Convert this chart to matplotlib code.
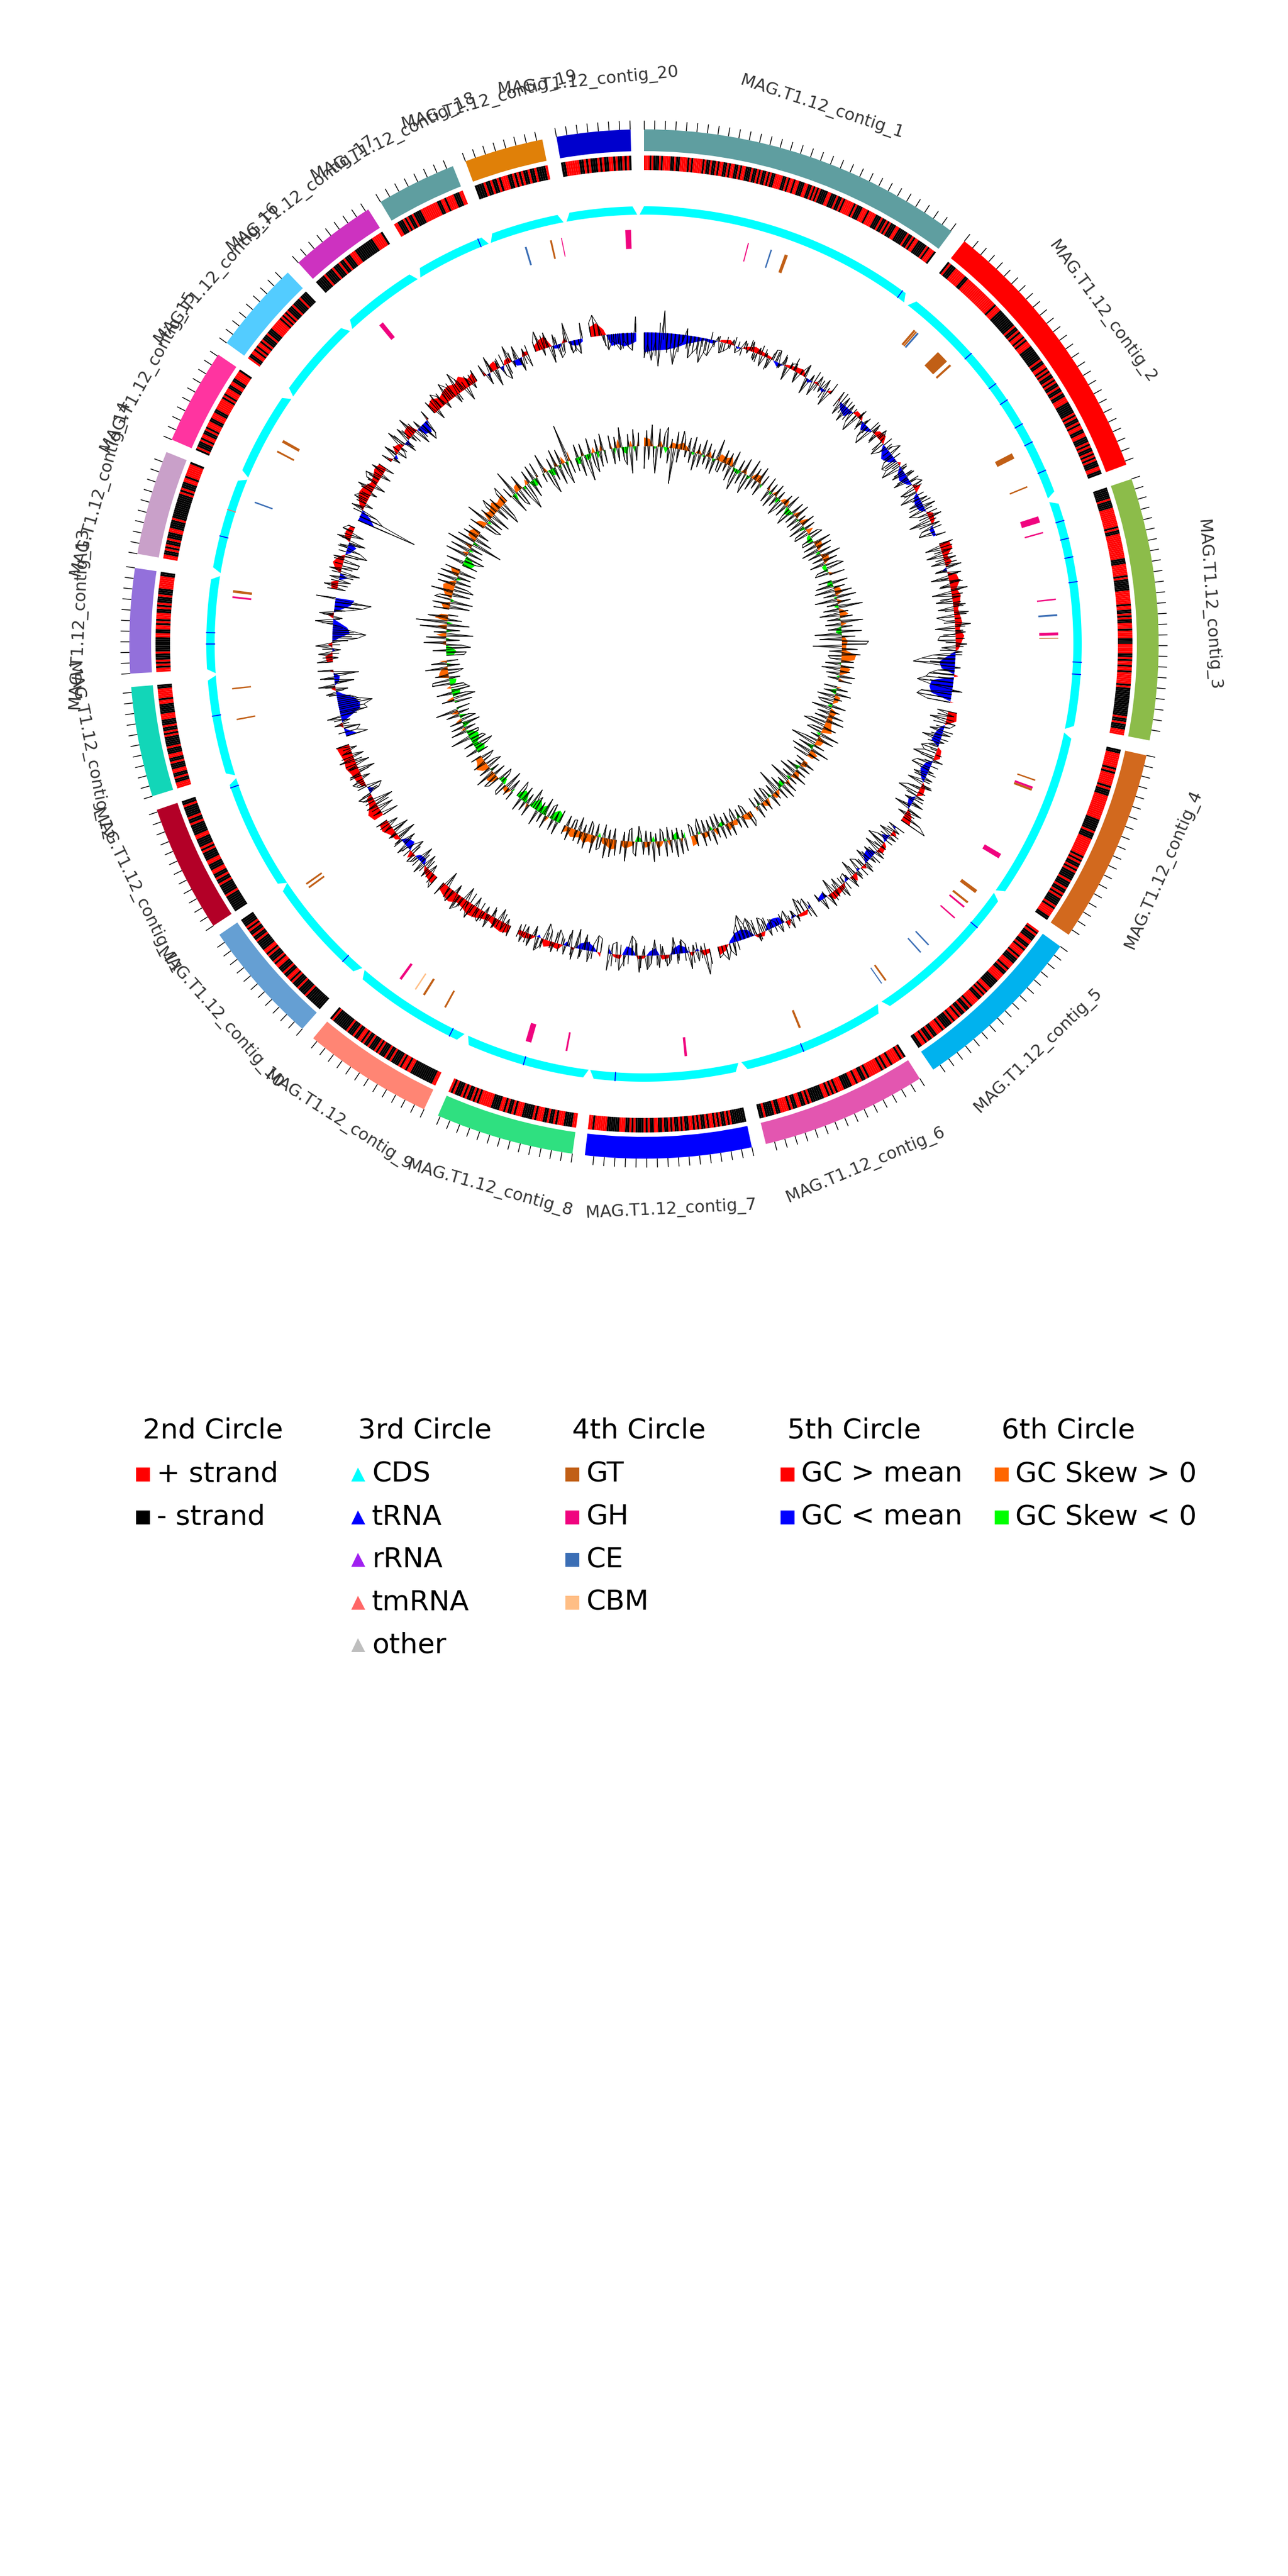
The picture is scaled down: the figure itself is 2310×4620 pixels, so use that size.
import numpy as np
import matplotlib
matplotlib.use('Agg')
import matplotlib.pyplot as plt

# contig extents in degrees, clockwise from the top
contig_start = [0.0, 38.5, 71.3, 102.5, 126.0, 147.6, 167.9, 188.0, 205.3, 221.6,
                236.8, 252.8, 266.7, 280.1, 293.4, 305.8, 317.8, 329.2, 339.7, 350.2]
contig_end = [36.7, 69.6, 100.8, 124.4, 145.8, 166.3, 186.6, 203.6, 220.0, 235.6,
              251.2, 265.2, 278.5, 291.9, 304.2, 316.2, 327.6, 338.2, 348.6, 358.5]
contig_colors = ['#5F9EA0', '#FF0000', '#8CBC4A', '#D2691E', '#00B2EE', '#E356B0', '#0000FF',
                 '#2FE080', '#FF8574', '#659FD3', '#B30027', '#12D6B8', '#9370DB', '#C9A0C9',
                 '#FF34A0', '#53CCFF', '#CD32C0', '#5F9EA0', '#E08008', '#0000CD']
contig_names = ['MAG.T1.12_contig_%d' % (i + 1) for i in range(20)]

# 2nd circle, one character per small cell: r = + strand, k = - strand
strand_cells = [
    'rrrkrkkkrkrrrrkkrkkrrrrkrkrrrrrkrkkrkkrkrrkkrkrrkkrkrrkkkrkkrkrkkrkrkkrrrrkkrkrrkrrkkkrrkkrkrkrkkkkrrkkkrkkrkrrrrrkrkkkrrrkrrrrkkkrkkrkrkkkrrkkkkkrkkrkrrkkkkkrkrrrk',
    'krkkkrrrrrrkkrrrrrrrrrrrrrrrrrrkrrrkkkkkkkkkkrkkrkrrkrkrrrkkkkkkkkrkkrrkrkrkkrkrkkrkkrkkrrrkkkkkkrkrkkrkrrkkrrkkkrkrkkrkrkrkkkrrkk',
    'kkkkkkrkkkkrrrrrrrrrrkrkkrrrrrrrrrrrrrkkkrrrrrrkrkkkkkkrrrrrrrkrrkkrkrkkrrrkrrrrkkkrrrrrkkrkrrkrrkrrrrrrkrkkkkkkkkkkkkkkkrkkrkkkrrr',
    'kkrrrrrrrkrkrrrrrrkrkkkrrrrrrrrrrrrkkkkkkrkkkrrrrrrrrrkrkrkkrkrkkkkrkkkrkkrkrkkkkrkrrrrkk',
    'rkrkkkrrkkrkrrrkrkkkrrrkrkkrrrrkkkkkrrkrkrkkrrrrkrkkrkkrkrrkrkkkkrkrrrkkrkkrkrrkk',
    'krkrrrrkrrkrkrrrrrrkrkkrrkrrkkkkrrrkrkrkrrkkkkkkrkrkkrrkkrkrrrrkkrkkkkrkk',
    'kkkkkkkrkrkkrkrkrrkrkkrkrkrrkkrkrkkrkrkkrkkrrkkrkrkkkkrkrkkrrrkkkkkkrrrrrrkrr',
    'rrkkkkrrrkrkkrkkrrrkrkkkkkrrrkrkkrkrrkkkkrrrrrrkrkrkkrkrkkkrkr',
    'rrkkkkkkkkkkkkrrkrrkrkkkkrkkrkkkrkrkkkrkkrkrrkkrkkkrkkkkkkkkrk',
    'kkkkkkkkkrkkkkrkkkrkrrkkrkkkrrkrkkkrkrrkkkkkrkkrkkrkrkkkk',
    'kkkkkkkkrkkkkkrkkrkkrrkkkrrkkkkrkrkkkkrrkkkkkrkkrkkkkkrkk',
    'rrrkkrkkrrkkkrkkrrkkkrkkkkkrkrkkrkkkrrrkkkkkrrkrrrrrkk',
    'rrkrkrkkkrkkkkkkkrrkkrrkrkrrrkkrkrkkkrkkkrrrrrrkk',
    'rrkkrkrkkrkkkrrkkkkrkkkkkkkkkkkkrkrkkkrrkrrrrrrk',
    'krkkkrkrrkkrkrrrkkrrrkkrrrrrrkrkrrrkkrrkkrrrrk',
    'rkkrrkrkrrkrkkkrkkkrrrrrrkrkrkrkkkrkkkkrkkkk',
    'kkkkkrkkkkrkkkrkkrkkkrrrkkkkkkkkkkrrrrrk',
    'rrkkkrkrkkrkkkkrrrrrrrrrkkrrkrrrrkkkrr',
    'kkkkrkkrkkrkrrrkkrkrkrkkrkkrkkkkr',
    'kkrrrrrrkkrkrkkkrkrkkrrkrkkrkrk',
]

# 3rd circle: RNA genes on the CDS ring
trna_angles = [36.2, 48.4, 53.5, 56.1, 59.8, 62.5, 66.6, 73.6, 76.0, 78.5, 81.8, 92.4, 94.0,
               130.4, 158.6, 183.8, 196.0, 206.4, 223.5, 250.8, 260.5, 270.0, 271.5, 284.3, 337.7]
tmrna_angles = [287.9]

# 4th circle: CAZyme class, angle and angular width
cazy_class = ['GH', 'GH', 'CE', 'GT', 'GT', 'GT', 'CE', 'GT', 'GT', 'GT', 'GT', 'GH', 'GH', 'GH', 'CE',
              'GH', 'GT', 'GT', 'GH', 'GT', 'GH', 'GT', 'GT', 'GH', 'GH', 'CE', 'CE', 'GT', 'CE', 'GT',
              'GH', 'GH', 'GH', 'GT', 'GT', 'CBM', 'GH', 'GT', 'GT', 'GT', 'GT', 'GH', 'GT', 'CE', 'GT',
              'GT', 'GH', 'CE', 'GT', 'GH']
cazy_angle = [357.8, 14.6, 17.9, 20.1, 40.8, 41.1, 41.4, 46.1, 47.7, 63.0, 67.7, 72.5, 74.4, 83.8, 86.0,
              88.6, 89.2, 109.2, 110.3, 110.6, 120.8, 126.7, 128.6, 129.4, 131.4, 136.6, 138.1, 144.3, 145.0, 157.9,
              174.2, 190.8, 196.2, 208.7, 212.1, 213.5, 216.0, 234.0, 234.6, 259.5, 263.8, 276.5, 277.3, 290.0, 297.7,
              299.3, 320.6, 343.4, 347.0, 348.5]
cazy_width = [0.8, 0.15, 0.2, 0.45, 0.3, 0.2, 0.25, 1.8, 0.3, 0.8, 0.2, 0.9, 0.2, 0.2, 0.25,
              0.4, 0.1, 0.2, 0.3, 0.3, 0.7, 0.5, 0.3, 0.25, 0.2, 0.2, 0.2, 0.25, 0.15, 0.3,
              0.35, 0.25, 0.8, 0.25, 0.3, 0.2, 0.35, 0.25, 0.25, 0.2, 0.2, 0.25, 0.35, 0.2, 0.25,
              0.4, 0.65, 0.25, 0.25, 0.12]

# 5th circle: GC content around the mean, per contig (spikes)
gc_values = [
    [-45, -20, -50, -15, -60, 40, -30, -25, -55, -20, -15, 12, -40, -30, -20, -45, -25, -30, -10, 8, -20, -15, -8, 10, -12, -5, 15, -6, 18, -14, 12, -20, 8, -18, 20, 22, -8, 16, -25, 10, 14, -20, 6, 24, -30, 12, -25, 18, -10, 20, -28, 10],
    [18, -25, 16, -30, 12, -20, -35, 14, -15, 8, -25, -35, 18, -15, 20, 8, -28, -15, 10, 22, -20, -30, -25, -38, 10, -25, 16, -30, 12, 20, -28, -12, -35, 14, -25, 22, -32, -18, 24, -40, 15, -22, -30, 12],
    [25, -28, 20, -30, 22, -25, 28, -20, 24, -32, 20, -18, 30, -35, 15, -30, 22, -28, 26, -32, -15, 28, -36, 18, -28, -32, 20, -25, 12, -40, -60, -75, 10, -30, -45, -50, -65, -40, 18, -55, -62, -42],
    [-20, 12, -30, 18, 10, -25, 15, -35, 8, -15, -30, -22, -40, 18, -28, -35, 10, -25, 14, -30, 20, -24, -38, 16, -18, 22, -30, 28, -15, 35, 50],
    [-15, 12, -25, 15, -20, -35, 10, -30, 18, -22, 12, -28, 20, -18, -25, 16, -30, 22, -15, -12, 25, -20, 14, -28, 24, -10, 20, -15],
    [20, -22, -15, -30, 8, -12, 18, -20, -10, 15, -8, -16, 12, -22, -28, 14, -18, -35, -25, -45, -30, -18, 24, 12, 28, 15, 20],
    [20, 45, -8, 18, -12, 30, -16, -25, 12, -30, 10, 20, -16, 22, -28, 14, 25, -12, 30, -26, -35, -10, 12, 28, -22, -18, 30],
    [-25, -30, -12, 20, -28, 14, -35, 22, -30, 16, -15, -25, 18, -18, -30, 15, 25, -18, 22, -12, 20, -10],
    [20, -10, 15, -22, 18, -14, 25, -12, 22, 15, -18, 28, 12, -25, 20, 30, -16, 24, 14, -28, 26],
    [25, 12, -15, 18, -25, 22, -30, 10, 18, -28, -12, 20, -25, 14, -35, 16, -30, 12, -18, 22],
    [-30, 12, -28, 20, -35, 15, 25, -20, -28, 14, 22, -15, 20, -30, 18, -25, 28, -20, 16, -12, 24],
    [-40, -22, -30, 15, -15, 25, -50, -45, -62, -38, -25, 18, -22, 30, -35, 25, -45, 28],
    [28, -10, 25, -15, 30, -8, -45, -60, -30, -12, 32, -16, 26, -20, -50, -65, 35],
    [-15, 25, -22, 18, -35, 22, -28, -30, 20, -40, -25, 15, -30, 25, -22, 20, 12],
    [-110, -45, -30, 22, -15, 25, 18, -12, 30, -20, 22, 28, -18, 25, -16],
    [20, -14, 25, -18, -8, 35, -22, 28, -12, 35, -30, 15, -35, -25, 18],
    [25, -18, 30, 20, -12, 35, 22, -16, 40, 18, -25, 15, -10, 22],
    [22, -20, 30, -30, 15, -18, -28, 32, -12, 25, -25, 14, -22],
    [18, 35, -12, 28, -30, 20, -25, -18, 35, -22, -14, -26, 28],
    [25, 38, 20, -10, -28, -12, -18, -30, -14, -25, -32, 28],
]

# more GC spikes, lying between the ones above
gc_between = [
    [-30, -38, -22, -42, 18, -12, -35, -18, -28, -32, -12, -24, -18, -10, -30, -16, -22, 14, -12, 10, -18, 12, -8, 16, 10, -14, 12, 20, -12, -16, 18, 14, -22, 12, 18, -10, 20, -16, 12, 24, -14, 10, 18, -20, 8, 22, -12, 14, -18, 8, 22],
    [-14, 20, -18, 14, -22, 10, -12, 18, -20, 14, -15, 20, 12, -18, 14, -22, 18, 12, -14, -18, 14, -25, -15, 12, -20, 14, -22, 18, -12, 16, -24, 12, -15, 18, -28, 14, 20, -18, 12, -24, 16, -14, 18],
    [16, 22, -14, 18, -16, 22, 14, -22, 18, -14, 24, -20, 16, 20, -22, 14, 18, -16, 22, 12, -20, 18, 14, -22, 16, -18, 14, -28, 12, -32, -45, -25, -20, -38, -28, -42, -30, 14, -30, -38, -25],
    [16, -18, 14, -22, -15, 18, -20, 14, -22, -18, -12, 12, -25, -15, 14, -18, 16, -22, 12, 18, -15, 14, -20, 18, 14, -16, 20, 18, 25, 30],
    [18, -14, 16, -18, 14, -25, -15, 14, -16, 18, -20, 14, -15, 18, 12, -18, 14, -10, 16, -15, 18, -12, 18, 14, -12, 16, -14],
    [-12, 14, -24, -16, 12, -14, -8, 14, -18, -12, 10, -18, -24, -14, 12, -28, -30, -20, -24, -12, 16, 18, 14, 20, 10, 16],
    [28, -12, 14, -16, 20, -10, 14, -22, 18, -14, 16, 12, -20, 18, -14, 20, -18, 22, -22, -18, 16, 20, -18, 14, 22, -16],
    [-18, -20, 14, -16, -22, 18, -18, 14, -22, -12, 14, -20, 12, -14, 18, 20, -12, 16, 18, -14, 14],
    [14, 18, -16, 14, 20, -18, 16, 18, -14, 20, 16, -20, 22, 18, 24, -12, 18, 20, -18, 16],
    [18, 20, 14, -18, 14, -20, 16, 14, -18, 16, 12, -16, 18, -22, 12, -20, 16, 20, 14],
    [-18, 16, 14, -25, 18, 20, 16, -18, 18, 16, 14, 22, -18, 16, 20, -14, 22, 18, 14, 20],
    [-28, 12, -20, -12, 14, -30, -38, -35, -42, -30, 14, -14, 18, -22, 18, -28, 20],
    [14, 18, -12, 18, -14, -28, -35, -38, -18, 20, -12, 18, -14, -35, -40, 18],
    [18, -18, 14, -25, 16, -20, 14, 18, -25, 14, 18, -22, 16, 14, 18, 12],
    [-60, -35, 16, 14, 18, 20, 16, 22, 14, 18, 20, 14, 18, 16],
    [14, -12, 18, 14, -12, 25, -16, 20, -18, 20, -22, -25, -28, 14],
    [18, 22, 16, 25, 18, 22, 28, -14, 25, 14, 20, 18, 16],
    [16, -14, 22, -18, 18, 22, -20, 18, 14, -18, -15, 18],
    [14, 22, 25, 18, -20, 14, -16, 18, -16, -20, -12, 16],
    [18, 25, 14, -20, -15, -22, -18, -28, -20, -18, 16],
]

# coarse level of the coloured GC area, per contig
gc_level = [
    [-28, -25, -24, -22, -18, -12, -8, -3, -5, 3, 6, -3, 4, 8, 5, 3, -6, 3, 6, 8, -5, 4, -5, 6],
    [4, -8, -12, 6, 5, -10, -4, 8, 10, -6, -15, -10, 4, -8, -12, -6, 10, -6, -10, -8, 8, 6, -6, -4],
    [14, 16, 6, 10, -6, 12, 14, 8, 12, 10, 6, 8, 10, 6, 12, 8, 4, -10, -22, -18, 6, -30, -32, -28, 5],
    [12, 14, -4, -10, -12, 6, 8, -8, -12, -6, 6, 8, -8, -4, 10, 14],
    [-6, 8, -10, 6, 8, -12, -10, 6, -4, 10, -6, 6, 8, 10, -8, -4],
    [-6, 6, 4, -5, 8, -10, -12, -8, 6, 4, -10, -14, -12, -4, 8, 12],
    [5, 8, -4, 6, -8, -12, -8, 5, 6, -10, -6, 4, 5, -10, -12, 6, 4, -8],
    [6, -6, -12, -8, 4, -6, 8, 6, 10, -4, 6, 8, 6],
    [10, 14, 12, 8, 10, 14, 16, 12, 10, 16, 14, 10],
    [12, 10, 6, -8, -6, 10, -12, -8, 6, 8, 14, 12],
    [14, 18, 10, 8, -8, 6, 10, 12, 16, 14, 16, 18],
    [-16, -4, 6, -12, -28, -30, -24, -8, 6, -6, -8, 6],
    [8, 10, -4, 6, -8, -24, -20, -6, 8, -8, -22, -26],
    [8, 10, -12, 8, 14, 8, -6, -12, 8, 10, 6],
    [-24, -14, 6, 12, 16, 14, 8, 10, 14, 12],
    [8, -6, 10, 6, -8, 12, 14, -12, -16, 6],
    [14, 18, 12, 16, 18, 14, 20, 10, 14],
    [8, -6, 10, 12, -8, 6, 8, -8, -10, 6, 5],
    [8, 14, 16, -4, -6, 6, -6, -8, -4],
    [14, 18, 8, -16, -14, -18, -16, -12],
]

# 6th circle: GC skew, per contig (spikes)
skew_values = [
    [-50, 35, -30, 48, -25, -60, 40, -25, 30, 45, -35, 20, -80, 38, -30, 42, 25, -15, 30, -25, 35, -40, 22, -30, 35, -20, 30, -28, 20, -35, 48, -22, -25, 30, -18, 28, -35, 38, -30, -50, 25, -30, 35, -25, -45, 42, -30, 28, -20, 38, -30, 25],
    [30, -30, 22, -35, 28, -25, 20, -40, -20, 25, -30, 35, -22, -40, 30, -25, 35, -30, 18, -28, 32, -38, 25, -30, -35, 22, 30, -25, -28, 40, -30, 35, -40, 28, -30, 45, -25, 32, -35, 28, 40, -25, -32, 35],
    [-30, 35, -40, 25, -45, 38, -28, 45, -50, 30, -25, 55, -35, 20, -45, 28, -30, 50, -35, 25, -30, 45, -60, 30, -50, 60, 55, -65, 35, -28, 42, -30, -25, 28, -35, 30, -42, 22, -30, 35, -25, 30],
    [-30, 25, -28, 35, -40, 18, -35, -25, 32, -45, 22, -28, 35, -30, 40, -35, -50, 30, -25, -35, 45, -20, 38, -30, -60, 25, -35, 42, -45, 28, -35],
    [-20, 30, -15, 28, -30, 25, -40, 35, -25, 20, -50, 30, -20, 35, -30, 28, -55, 18, -25, 30, -22, -30, 25, -35, 20, -20, 30, -25],
    [25, 35, -18, -25, 30, -20, 22, -28, -15, 32, -25, 28, -20, 30, -32, 22, -30, 35, -25, 22, -28, 30, -35, -22, 25, -20, -28],
    [30, -18, 35, -25, 40, -22, 28, -30, 35, -20, -28, 32, -18, 45, -22, 30, -25, 28, -15, -35, 32, 25, -30, -25, 45, -20, 30],
    [35, -25, 40, -20, 45, -30, 25, 30, -28, 40, -22, -30, 35, -18, 28, -32, 25, -22, -20, 30, -25, 20],
    [-30, 30, -22, 25, -35, -28, 30, -40, 22, -25, 35, -32, -20, -45, 28, -25, 22, -35, 30, -28, -40],
    [22, -30, 18, -42, 30, 25, -25, -35, 28, 35, -28, 45, -20, 28, -35, -22, 30, -18, -30, 25],
    [-25, 28, -30, -45, 22, -35, -30, 45, -25, -28, 35, -25, 30, -40, 28, -35, -22, 30, -25, 50, -30],
    [-40, 28, -50, -30, 35, -42, -35, -30, 40, 38, -25, 30, -20, -35, 50, -28, 35, -25],
    [-40, -45, 30, -55, -35, 50, -30, 45, -60, 28, -30, 60, -50, 70, -32, 45, -22],
    [35, -45, 40, -50, 38, 28, -40, 50, -45, -30, 40, -35, 45, -30, 42, -38, 35],
    [-35, 40, -28, -45, 50, -35, 45, -30, 60, -70, 42, -40, 35, -25, 30],
    [35, -30, -40, 55, -35, 28, -45, 25, 40, -30, 30, -50, -35, 28, 40],
    [25, -45, 60, -30, -40, 35, -28, -60, -35, 30, -40, 35, -25, 35],
    [-20, 45, -35, -55, 25, -30, 40, -45, 35, -25, -50, 85, -30],
    [-30, 30, -45, 28, -25, -60, 35, -30, -45, 28, -35, 38, -30],
    [30, -35, 25, -30, 45, -28, -40, 28, -60, 38, -32, 30],
]

# coarse level of the coloured skew area, per contig
skew_level = [
    [12, 10, -4, 8, -8, 8, 6, 10, 4, -4, 6, -3, 8, -5, 10, 8, 12, -4, -6, 8, -6, 8, 10, -6],
    [8, -5, 8, -8, 6, 8, -10, -6, 10, -4, 12, -8, 10, -5, -8, 10, 8, -6, 10, 8, -6, -4, 8],
    [-6, -8, 8, 10, -4, 8, -6, 6, 12, -4, 8, -6, -8, 4, 8, 6, 6, 20, 18, -5, 14, 10, -4, 10],
    [6, -10, 8, 6, -6, 10, 6, 8, 10, 14, -6, 10, 8, -10, 12, 8],
    [6, 8, -8, 6, 10, -6, 8, -8, -4, 6, 8, -6, 10, 6, -4, 6],
    [8, 10, 6, -6, 8, 6, 10, -6, -4, 10, -6, 6, 8, -4, 12, 14],
    [-8, 6, -10, -6, 8, -4, 6, 10, -8, 6, 8, -4, -8, 5, 8, 10, 6],
    [12, 14, 10, 8, -6, 12, 10, 14, 8, 10, 12, 6, 10],
    [-12, -16, -10, 8, -14, -8, -16, -10, 6, -10, -14, -6],
    [-6, 8, 6, -8, -6, 12, 14, -6, 10, 16, 10, 8],
    [-10, -14, -6, -12, -14, -8, 6, -12, 8, -10, 10, -8],
    [-8, 10, -10, -12, 6, -8, -10, 14, 12, 8, -6, 10],
    [-10, -14, -8, 8, -6, 14, -8, 16, -8, 18, 10],
    [8, 12, -6, 10, 14, 16, 8, -6, 10, 14],
    [-12, -16, -8, 8, -6, 10, -8, 12, 14, 10],
    [14, 10, -6, 12, 8, 10, 14, 8, 10, 12],
    [6, -10, 8, 10, -6, 8, -8, -10, 6],
    [-6, 8, -8, -10, 8, -6, 10, -8, 14],
    [-8, -10, 6, -8, -6, 8, -10, 8, -6],
    [10, -8, 12, -6, -10, 8, -8, 10],
]

# legend content
legend_titles = ['2nd Circle', '3rd Circle', '4th Circle', '5th Circle', '6th Circle']
legend_labels = [['+ strand', '- strand'],
                 ['CDS', 'tRNA', 'rRNA', 'tmRNA', 'other'],
                 ['GT', 'GH', 'CE', 'CBM'],
                 ['GC > mean', 'GC < mean'],
                 ['GC Skew > 0', 'GC Skew < 0']]
legend_colors = [['#FF0000', '#000000'],
                 ['#00FFFF', '#0000FF', '#A020F0', '#FF6666', '#BEBEBE'],
                 ['#C15F16', '#F0047F', '#3B6EB5', '#FFBE85'],
                 ['#FF0000', '#0000FF'],
                 ['#FF6600', '#00FF00']]
legend_markers = ['s', '^', 's', 's', 's']
cazy_colors = {'GT': '#C15F16', 'GH': '#F0047F', 'CE': '#3B6EB5', 'CBM': '#FFBE85'}

fig = plt.figure(figsize=(7.7, 15.4), dpi=300)

# legend is placed in pixel coordinates of the whole picture
leg = fig.add_axes([0, 0, 1, 1])
leg.set_xlim(0, 2310)
leg.set_ylim(4620, 0)
leg.axis('off')
col_x = [256, 642, 1026, 1412, 1796]
for i in range(5):
    leg.text(col_x[i], 2565, legend_titles[i], fontsize=12, va='center', ha='left')
    for j in range(len(legend_labels[i])):
        y = 2644 + j * 76.6
        leg.plot([col_x[i]], [y], legend_markers[i], ms=6, color=legend_colors[i][j], mew=0)
        leg.text(col_x[i] + 25, y, legend_labels[i][j], fontsize=12, va='center', ha='left')

# polar axes where one radial unit is one pixel
ax = fig.add_axes([0, 0.5, 1, 0.5], projection='polar')
ax.set_theta_zero_location('N')
ax.set_theta_direction(-1)
ax.set_rlim(0, 1155)
ax.axis('off')

for i in range(20):
    a0, a1 = contig_start[i], contig_end[i]
    mid = (a0 + a1) / 2

    # outer ring, ticks and label
    ax.bar(np.radians(mid), 39, np.radians(a1 - a0), bottom=884, color=contig_colors[i], linewidth=0)
    for t in np.arange(a0, a1, 1.18):
        ax.plot([np.radians(t)] * 2, [923, 939], color='black', lw=0.35, solid_capstyle='butt')
    if mid < 90 or mid > 270:
        rot = -mid if mid < 90 else 360 - mid
    else:
        rot = 180 - mid
    ax.text(np.radians(mid), 1015, contig_names[i], fontsize=7.2, color='#333333', rotation=rot,
            rotation_mode='anchor', ha='center', va='center')

    # 2nd circle strand cells
    cells = strand_cells[i]
    edges = np.linspace(a0, a1, len(cells) + 1)
    colors = ['#FF0000' if c == 'r' else '#000000' for c in cells]
    ax.bar(np.radians(edges[:-1]), 26, np.radians(np.diff(edges)), bottom=850, color=colors,
           align='edge', linewidth=0)

    # 3rd circle CDS ring, the inner side reaches a bit past the contig
    th = np.radians(np.linspace(a0, a1, 80))
    inner = np.radians(np.linspace(a0 - 0.6, a1 + 0.6, 80))
    ax.fill(np.concatenate([th, inner[::-1]]),
            np.concatenate([np.full(80, 785.0), np.full(80, 770.0)]), color='#00FFFF', lw=0)

    # 5th and 6th circle: coloured level first, black spikes on top
    for level, base, up, down in [(gc_level[i], 559, '#FF0000', '#0000FF'),
                                  (skew_level[i], 355, '#FF6600', '#00FF00')]:
        m = np.array(level, dtype=float) * 1.3
        x = np.radians(np.linspace(a0, a1, len(m)))
        ax.fill_between(x, base, base + m, where=m >= 0, interpolate=True, color=up, lw=0)
        ax.fill_between(x, base, base + m, where=m <= 0, interpolate=True, color=down, lw=0)

    v = np.array(gc_values[i], dtype=float)
    x = np.radians(np.linspace(a0, a1, len(v)))
    ax.vlines(x, 559, 559 + v, color='black', lw=0.35)
    ax.plot(x, 559 + v, color='black', lw=0.25)
    v = np.array(gc_between[i], dtype=float)
    ax.vlines(np.radians(np.linspace(a0, a1, len(v))), 559, 559 + v, color='black', lw=0.35)

    v = np.array(skew_values[i], dtype=float) * 0.8
    x = np.radians(np.linspace(a0, a1, len(v)))
    ax.vlines(x, 355, 355 + v, color='black', lw=0.35)
    ax.plot(x, 355 + v, color='black', lw=0.25)

for a in trna_angles:
    ax.plot([np.radians(a)] * 2, [770, 785], color='#0000FF', lw=0.4)
for a in tmrna_angles:
    ax.plot([np.radians(a)] * 2, [770, 785], color='#FF6666', lw=0.4)

# 4th circle CAZymes
for c, a, w in zip(cazy_class, cazy_angle, cazy_width):
    ax.bar(np.radians(a), 34, np.radians(w), bottom=709, color=cazy_colors[c], linewidth=0)

ax.set_rlim(0, 1155)
fig.savefig('out.png', dpi=300, facecolor='white')
